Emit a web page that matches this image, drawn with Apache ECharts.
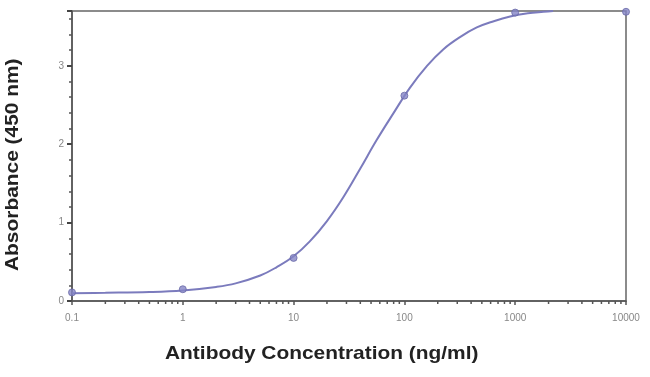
<!DOCTYPE html>
<html><head><meta charset="utf-8">
<script src="https://cdn.jsdelivr.net/npm/echarts@6/dist/echarts.min.js"></script>
<style>html,body{margin:0;padding:0;background:#fff}#c{width:650px;height:377px}</style>
</head><body><div id="c"></div>
<script>
// measured points
var conc = [0.1, 1, 10, 100, 1000, 10000];
var absorb = [0.11, 0.15, 0.55, 2.62, 3.68, 3.69];
// fitted curve
var curveX = [0.1, 0.2, 0.5, 1, 2, 3, 5, 7, 10, 14, 20, 28, 40, 56, 80, 112, 160, 224, 320, 450, 640, 900, 1300, 1800, 2200];
var curveY = [0.10, 0.105, 0.115, 0.135, 0.18, 0.225, 0.325, 0.43, 0.57, 0.76, 1.02, 1.32, 1.69, 2.05, 2.40, 2.72, 3.00, 3.21, 3.37, 3.49, 3.57, 3.63, 3.67, 3.69, 3.70];
var xTicks = ['0.1', '1', '10', '100', '1000', '10000'];
var xMinor = [0.2,0.3,0.4,0.5,0.6,0.7,0.8,0.9,2,3,4,5,6,7,8,9,20,30,40,50,60,70,80,90,200,300,400,500,600,700,800,900,2000,3000,4000,5000,6000,7000,8000,9000];

var chart = echarts.init(document.getElementById('c'));
chart.setOption({
  animation: false,
  grid: {left: 72, right: 24, top: 11, bottom: 76, show: true, borderColor: '#666', borderWidth: 1.5, backgroundColor: '#fff'},
  xAxis: {
    type: 'log', logBase: 10, min: 0.1, max: 10000,
    axisLine: {show: true, lineStyle: {color: '#555', width: 1.5}},
    axisTick: {show: true, length: 4, lineStyle: {color: '#555', width: 1.5}},
    splitLine: {show: false},
    axisLabel: {color: '#888', fontSize: 10, fontFamily: 'Liberation Sans', margin: 12,
      formatter: function (v) { var i = Math.round(Math.log10(v)) + 1; return xTicks[i] || ''; }}
  },
  yAxis: {
    type: 'value', min: 0, max: 3.7, interval: 1,
    axisLine: {show: true, lineStyle: {color: '#555', width: 1.5}},
    axisTick: {show: true, length: 5, lineStyle: {color: '#444', width: 2}},
    minorTick: {show: true, splitNumber: 5, length: 3, lineStyle: {color: '#555', width: 1.5}},
    splitLine: {show: false},
    axisLabel: {color: '#888', fontSize: 10, fontFamily: 'Liberation Sans', margin: 8, showMaxLabel: false}
  },
  graphic: [
    {type: 'text', x: 165, y: 344, scaleX: 1.1, style: {text: 'Antibody Concentration (ng/ml)', font: 'bold 19px "Liberation Sans", Arial', fill: '#222'}},
    {type: 'text', x: 3, y: 271, scaleX: 1.1, rotation: Math.PI / 2, style: {text: 'Absorbance (450 nm)', font: 'bold 19px "Liberation Sans", Arial', fill: '#222'}}
  ],
  series: [
    {
      type: 'line', smooth: 0.4, symbol: 'none',
      data: curveX.map(function (x, i) { return [x, curveY[i]]; }),
      lineStyle: {color: '#7b7bbd', width: 2}, z: 2
    },
    {
      type: 'scatter', symbol: 'circle', symbolSize: 7,
      data: conc.map(function (x, i) { return [x, absorb[i]]; }),
      itemStyle: {color: '#8484c6', borderColor: '#6a6aa8', borderWidth: 1}, z: 3
    },
    {
      type: 'custom', clip: false, silent: true,
      data: xMinor.map(function (x) { return [x, 0]; }),
      renderItem: function (params, api) {
        var p = api.coord([api.value(0), 0]);
        return {type: 'line', shape: {x1: p[0], y1: p[1], x2: p[0], y2: p[1] + 3}, style: {stroke: '#555', lineWidth: 1.5}};
      }, z: 4
    }
  ]
});
</script></body></html>
